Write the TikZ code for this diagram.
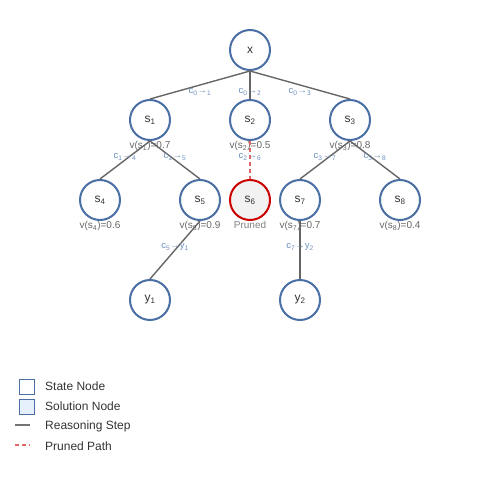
\documentclass[tikz,border=0pt]{standalone}
\usepackage{fontspec}
\setmainfont{Liberation Sans}
\usetikzlibrary{positioning}
\definecolor{nodeblue}{HTML}{4A6FA5}
\definecolor{prunedred}{HTML}{CC0000}
\definecolor{pathred}{HTML}{E06666}
\definecolor{labelblue}{HTML}{6C8EBF}
\definecolor{stepgray}{HTML}{666666}
\definecolor{textgray}{HTML}{333333}
\definecolor{solfill}{HTML}{E6F0FA}
\newcommand{\sub}[1]{\textsubscript{#1}}

\begin{document}
\begin{tikzpicture}[x=1pt, y=-1pt,
	state/.style={circle, draw=nodeblue, line width=2pt, fill=white, minimum size=40pt, inner sep=0pt, font=\fontsize{12}{14}\selectfont, text=textgray},
	prunedstate/.style={state, draw=prunedred, fill=black!5},
	value/.style={font=\fontsize{10}{12}\selectfont, text=stepgray, inner sep=0pt},
	steplabel/.style={font=\fontsize{9.5}{10}\selectfont, text=labelblue, inner sep=0pt},
	reason/.style={draw=stepgray, line width=1.4pt},
	cut/.style={draw=pathred, line width=1.4pt, dash pattern=on 4pt off 3pt},
	legendbox/.style={draw=nodeblue, line width=1.5pt, minimum size=15pt, inner sep=0pt},
	legendtext/.style={font=\fontsize{12}{14}\selectfont, text=textgray, anchor=west, inner sep=0pt}]
	\useasboundingbox (0,0) rectangle (500,500);
	% tree
	\node [state] (x) at (250,50) {x};
	\node [state] (s1) at (150,120) {s\sub{1}};
	\node [state] (s2) at (250,120) {s\sub{2}};
	\node [state] (s3) at (350,120) {s\sub{3}};
	\node [state] (s4) at (100,200) {s\sub{4}};
	\node [state] (s5) at (200,200) {s\sub{5}};
	\node [prunedstate] (s6) at (250,200) {s\sub{6}};
	\node [state] (s7) at (300,200) {s\sub{7}};
	\node [state] (s8) at (400,200) {s\sub{8}};
	\node [state] (y1) at (150,300) {y\sub{1}};
	\node [state] (y2) at (300,300) {y\sub{2}};
	% values
	\node [value, below=0.5pt of s1] (v1) {v(s\sub{1})=0.7};
	\node [value, below=0.5pt of s2] (v2) {v(s\sub{2})=0.5};
	\node [value, below=0.5pt of s3] (v3) {v(s\sub{3})=0.8};
	\node [value, below=0.5pt of s4] (v4) {v(s\sub{4})=0.6};
	\node [value, below=0.5pt of s5] (v5) {v(s\sub{5})=0.9};
	\node [value, below=0.5pt of s6, text=black!50] (v6) {Pruned};
	\node [value, below=0.5pt of s7] (v7) {v(s\sub{7})=0.7};
	\node [value, below=0.5pt of s8] (v8) {v(s\sub{8})=0.4};
	% steps
	\draw [reason] (x.south) -- node [steplabel, yshift=-7pt] {c\sub{0}→\sub{1}} (s1.north);
	\draw [reason] (x.south) -- node [steplabel, yshift=-7pt] {c\sub{0}→\sub{2}} (s2.north);
	\draw [reason] (x.south) -- node [steplabel, yshift=-7pt] {c\sub{0}→\sub{3}} (s3.north);
	\draw [reason] (s1.south) -- node [steplabel, yshift=3pt] {c\sub{1}→\sub{4}} (s4.north);
	\draw [reason] (s1.south) -- node [steplabel, yshift=3pt] {c\sub{1}→\sub{5}} (s5.north);
	\draw [cut] (s2.south) -- node [steplabel, yshift=3pt] {c\sub{2}→\sub{6}} (s6.north);
	\draw [reason] (s3.south) -- node [steplabel, yshift=3pt] {c\sub{3}→\sub{7}} (s7.north);
	\draw [reason] (s3.south) -- node [steplabel, yshift=3pt] {c\sub{3}→\sub{8}} (s8.north);
	\draw [reason] (s5.south) -- node [steplabel, yshift=3pt] {c\sub{5}→y\sub{1}} (y1.north);
	\draw [reason] (s7.south) -- node [steplabel, yshift=3pt] {c\sub{7}→y\sub{2}} (y2.north);
	% legend
	\node [legendbox, fill=white] (lstate) at (27,387) {};
	\node [legendbox, fill=solfill] (lsol) at (27,407) {};
	\coordinate (lstep0) at (15,425);
	\coordinate (lstep1) at (30,425);
	\coordinate (lcut0) at (15,445);
	\coordinate (lcut1) at (30,445);
	\draw [reason, draw=black!55] (lstep0) -- (lstep1);
	\draw [cut] (lcut0) -- (lcut1);
	\node [legendtext] (tstate) at (45,386) {State Node};
	\node [legendtext] (tsol) at (45,406) {Solution Node};
	\node [legendtext] (tstep) at (45,426) {Reasoning Step};
	\node [legendtext] (tcut) at (45,446) {Pruned Path};
\end{tikzpicture}
\end{document}
